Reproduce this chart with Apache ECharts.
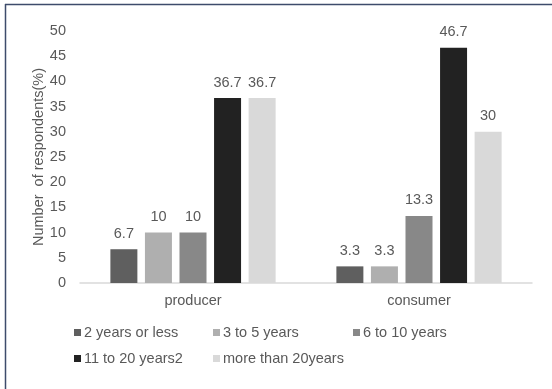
<!DOCTYPE html>
<html>
<head>
<meta charset="utf-8">
<script src="https://cdn.jsdelivr.net/npm/echarts@6/dist/echarts.min.js"></script>
<style>
  html, body { margin: 0; padding: 0; background: #fff; }
  #chart { width: 552px; height: 389px; }
</style>
</head>
<body>
<div id="chart"></div>
<script>
// Respondent groups and experience bands
const categories = ['producer', 'consumer'];
const seriesNames = ['2 years or less', '3 to 5 years', '6 to 10 years', '11 to 20 years2', 'more than 20years'];
const twoOrLess = [6.7, 3.3];
const threeToFive = [10, 3.3];
const sixToTen = [10, 13.3];
const elevenToTwenty = [36.7, 46.7];
const moreThanTwenty = [36.7, 30];
const yTicks = { min: 0, max: 50, interval: 5 };

const values = [twoOrLess, threeToFive, sixToTen, elevenToTwenty, moreThanTwenty];
const colors = ['#5f5f5f', '#afafaf', '#888888', '#222222', '#d9d9d9'];
const font = 'Liberation Sans, Arial, sans-serif';
const textGray = '#595959';
const fs = 14.5;

const chart = echarts.init(document.getElementById('chart'), null, { renderer: 'canvas' });

// one legend block per item so they sit in a two-row grid
const legendPos = [
  { left: 74, top: 325 },
  { left: 213, top: 325 },
  { left: 353, top: 325 },
  { left: 74, top: 351 },
  { left: 213, top: 351 }
];

const option = {
  animation: false,
  backgroundColor: '#fff',
  color: colors,
  graphic: [
    { type: 'line', shape: { x1: 5, y1: 4.5, x2: 552, y2: 4.5 }, style: { stroke: '#3d4b6b', lineWidth: 1.5 } },
    { type: 'line', shape: { x1: 5.5, y1: 4, x2: 5.5, y2: 389 }, style: { stroke: '#3d4b6b', lineWidth: 1.5 } }
  ],
  legend: seriesNames.map((n, i) => ({
    data: [n],
    left: legendPos[i].left,
    top: legendPos[i].top,
    icon: 'rect',
    itemWidth: 7,
    itemHeight: 7,
    itemGap: 0,
    padding: 0,
    selectedMode: false,
    textStyle: { fontFamily: font, fontSize: fs, color: textGray, padding: [0, 0, 0, -2] }
  })),
  grid: { left: 80, right: 20, top: 31, bottom: 106, containLabel: false },
  xAxis: {
    type: 'category',
    data: categories,
    axisLine: { show: true, lineStyle: { color: '#d9d9d9', width: 1.5 } },
    axisTick: { show: false },
    axisLabel: { fontFamily: font, fontSize: fs, color: textGray, margin: 10 }
  },
  yAxis: {
    type: 'value',
    min: yTicks.min,
    max: yTicks.max,
    interval: yTicks.interval,
    name: 'Number  of respondents(%)',
    nameLocation: 'middle',
    nameRotate: 90,
    nameGap: 34,
    nameMoveOverlap: false,
    nameTextStyle: { fontFamily: font, fontSize: fs, color: textGray },
    axisLine: { show: false },
    axisTick: { show: false },
    splitLine: { show: false },
    axisLabel: { fontFamily: font, fontSize: fs, color: textGray, margin: 14 }
  },
  series: seriesNames.map((n, i) => ({
    name: n,
    type: 'bar',
    data: values[i],
    barWidth: 27,
    barGap: '28%',
    itemStyle: { color: colors[i] },
    label: {
      show: true,
      position: 'top',
      distance: 8,
      fontFamily: font,
      fontSize: fs,
      color: textGray
    }
  }))
};

chart.setOption(option);
</script>
</body>
</html>
